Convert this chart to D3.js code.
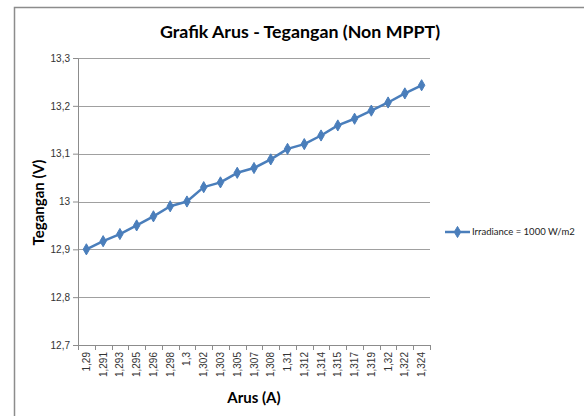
<!DOCTYPE html>
<html>
<head>
<meta charset="utf-8">
<script src="https://cdn.jsdelivr.net/npm/d3@7"></script>
<style>
  body { margin: 0; background: #fff; }
  svg { font-family: Lato, "Open Sans", sans-serif; }
</style>
</head>
<body>
<div id="chart"></div>
<script>
// arus (A) per titik, label sumbu x
var arus = ["1,29","1,291","1,293","1,295","1,296","1,298","1,3","1,302","1,303","1,305","1,307",
            "1,308","1,31","1,312","1,314","1,315","1,317","1,319","1,32","1,322","1,324"];
// tegangan (V)
var tegangan = [12.9, 12.917, 12.932, 12.95, 12.969, 12.99, 13.0, 13.03, 13.04, 13.06, 13.07,
                13.088, 13.11, 13.12, 13.138, 13.159, 13.173, 13.19, 13.207, 13.226, 13.243];
var yTicks = [12.7, 12.8, 12.9, 13.0, 13.1, 13.2, 13.3];
var seriesName = "Irradiance = 1000 W/m2";

var W = 584, H = 416;
var margin = {top: 58, left: 78, right: 154, bottom: 71};
var width = W - margin.left - margin.right,
    height = H - margin.top - margin.bottom;
var blue = "#4a7ebb";

var svg = d3.select("#chart").append("svg")
    .attr("width", W).attr("height", H);

// frame
svg.append("rect")
    .attr("x", 14.5).attr("y", 7.5)
    .attr("width", 600).attr("height", 430)
    .attr("fill", "none").attr("stroke", "#8c8c8c").attr("stroke-width", 1.5);

var g = svg.append("g")
    .attr("transform", "translate(" + margin.left + "," + margin.top + ")");

var x = d3.scaleBand().domain(arus).range([0, width]);
var y = d3.scaleLinear().domain([12.7, 13.3]).range([height, 0]);

function fmt(v) {
  return (Math.round(v * 10) / 10).toString().replace(".", ",");
}

// gridlines
g.selectAll("line.grid")
    .data(yTicks.slice(1))
  .enter().append("line")
    .attr("class", "grid")
    .attr("x1", 0).attr("x2", width)
    .attr("y1", function(d) { return Math.round(y(d)) + 0.5; })
    .attr("y2", function(d) { return Math.round(y(d)) + 0.5; })
    .attr("stroke", "#a0a0a0").attr("stroke-width", 1);

// y axis
var yAxis = g.append("g")
    .call(d3.axisLeft(y).tickValues(yTicks).tickFormat(fmt).tickSize(5).tickSizeOuter(0));
yAxis.select(".domain").attr("stroke", "#8c8c8c");
yAxis.selectAll(".tick line").attr("stroke", "#8c8c8c");
yAxis.selectAll("text").attr("fill", "#333").style("font-size", "10px").attr("x", -8);

// x axis, ticks on category boundaries
var xAxis = g.append("g")
    .attr("transform", "translate(0," + height + ")")
    .call(d3.axisBottom(x).tickSize(0).tickSizeOuter(0));
xAxis.select(".domain").attr("stroke", "#8c8c8c");
xAxis.selectAll("text")
    .attr("fill", "#333").style("font-size", "10px")
    .attr("transform", "rotate(-90)")
    .attr("text-anchor", "end")
    .attr("x", -7).attr("y", 0).attr("dy", "0.35em");
var edges = arus.map(function(d) { return x(d); }).concat([width]);
xAxis.selectAll("line.edge")
    .data(edges)
  .enter().append("line")
    .attr("class", "edge")
    .attr("x1", function(d) { return Math.round(d) + 0.5; })
    .attr("x2", function(d) { return Math.round(d) + 0.5; })
    .attr("y1", 0).attr("y2", 5)
    .attr("stroke", "#8c8c8c");

// line
var line = d3.line()
    .x(function(d, i) { return x(arus[i]) + x.bandwidth() / 2; })
    .y(function(d) { return y(d); });

g.append("path")
    .datum(tegangan)
    .attr("d", line)
    .attr("fill", "none").attr("stroke", blue).attr("stroke-width", 2.5)
    .attr("stroke-linejoin", "round");

var diamond = d3.symbol().type(d3.symbolDiamond).size(36);
g.selectAll("path.dot")
    .data(tegangan)
  .enter().append("path")
    .attr("class", "dot")
    .attr("d", diamond)
    .attr("transform", function(d, i) {
      return "translate(" + (x(arus[i]) + x.bandwidth() / 2) + "," + y(d) + ")";
    })
    .attr("fill", blue).attr("stroke", blue).attr("stroke-width", 1);

// title
svg.append("text")
    .attr("x", 300).attr("y", 38)
    .attr("text-anchor", "middle")
    .style("font-size", "17.8px").style("font-weight", "bold")
    .attr("fill", "#000")
    .text("Grafik Arus - Tegangan (Non MPPT)");

// axis titles
svg.append("text")
    .attr("x", margin.left + width / 2).attr("y", 403)
    .attr("text-anchor", "middle")
    .style("font-size", "15px").style("font-weight", "bold")
    .text("Arus (A)");

svg.append("text")
    .attr("transform", "translate(44," + (margin.top + height / 2 + 1) + ") rotate(-90)")
    .attr("text-anchor", "middle")
    .style("font-size", "15px").style("font-weight", "bold")
    .text("Tegangan (V)");

// legend
var lg = svg.append("g").attr("transform", "translate(445,232)");
lg.append("line").attr("x1", 0).attr("x2", 25).attr("y1", 0).attr("y2", 0)
    .attr("stroke", blue).attr("stroke-width", 2.5);
lg.append("path").attr("d", diamond).attr("transform", "translate(12.5,0)")
    .attr("fill", blue).attr("stroke", blue);
lg.append("text").attr("x", 27).attr("y", 0).attr("dy", "0.35em")
    .style("font-size", "9.5px").attr("fill", "#222")
    .text(seriesName);
</script>
</body>
</html>
